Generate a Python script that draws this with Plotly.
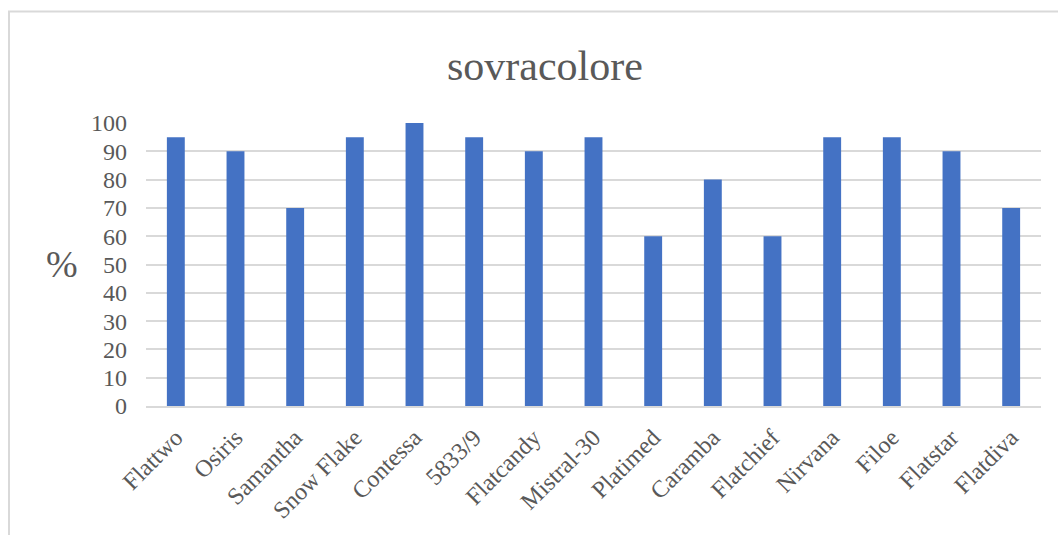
import plotly.graph_objects as go

# Varieties and their sovracolore percentage
varieties = ["Flattwo", "Osiris", "Samantha", "Snow Flake", "Contessa", "5833/9",
             "Flatcandy", "Mistral-30", "Platimed", "Caramba", "Flatchief",
             "Nirvana", "Filoe", "Flatstar", "Flatdiva"]
sovracolore = [95, 90, 70, 95, 100, 95, 90, 95, 60, 80, 60, 95, 95, 90, 70]
y_ticks = [0, 10, 20, 30, 40, 50, 60, 70, 80, 90, 100]

W, H = 1058, 535
ML, MR, MT, MB = 146, 17, 123, 125
PW, PH = W - ML - MR, H - MT - MB

FONT = "Liberation Serif, Times New Roman, serif"
TXT = "#595959"
GRID = "#D9D9D9"


def px_x(px):
    return (px - ML) / PW


def px_y(py):
    return (H - MB - py) / PH


fig = go.Figure(
    go.Bar(
        x=varieties,
        y=sovracolore,
        marker=dict(color="#4472C4", line=dict(width=0)),
        hoverinfo="x+y",
    )
)

fig.update_layout(
    width=W,
    height=H,
    margin=dict(l=ML, r=MR, t=MT, b=MB, pad=0),
    paper_bgcolor="white",
    plot_bgcolor="white",
    bargap=0.70,
    showlegend=False,
    font=dict(family=FONT, color=TXT, size=24),
    xaxis=dict(
        type="category",
        tickangle=-45,
        showgrid=False,
        showline=True,
        linecolor=GRID,
        linewidth=2,
        ticks="",
        tickfont=dict(family=FONT, size=24, color=TXT),
        ticklabelstandoff=6,
    ),
    yaxis=dict(
        range=[0, 100],
        tickvals=y_ticks,
        showgrid=True,
        gridcolor=GRID,
        gridwidth=2,
        zeroline=False,
        showline=False,
        ticks="",
        tickfont=dict(family=FONT, size=24, color=TXT),
        ticklabelstandoff=18,
    ),
    annotations=[
        dict(
            text="sovracolore",
            xref="paper", yref="paper",
            x=px_x(545), y=px_y(65),
            xanchor="center", yanchor="middle",
            showarrow=False,
            font=dict(family=FONT, size=42, color=TXT),
        ),
        dict(
            text="%",
            xref="paper", yref="paper",
            x=px_x(62), y=px_y(266),
            xanchor="center", yanchor="middle",
            showarrow=False,
            font=dict(family=FONT, size=38, color=TXT),
        ),
    ],
    shapes=[
        dict(
            type="rect",
            xref="paper", yref="paper",
            x0=px_x(9), y0=px_y(545),
            x1=px_x(1068), y1=px_y(10),
            line=dict(color=GRID, width=2),
            fillcolor="rgba(0,0,0,0)",
            layer="below",
        )
    ],
)

fig.write_html("out.html")
